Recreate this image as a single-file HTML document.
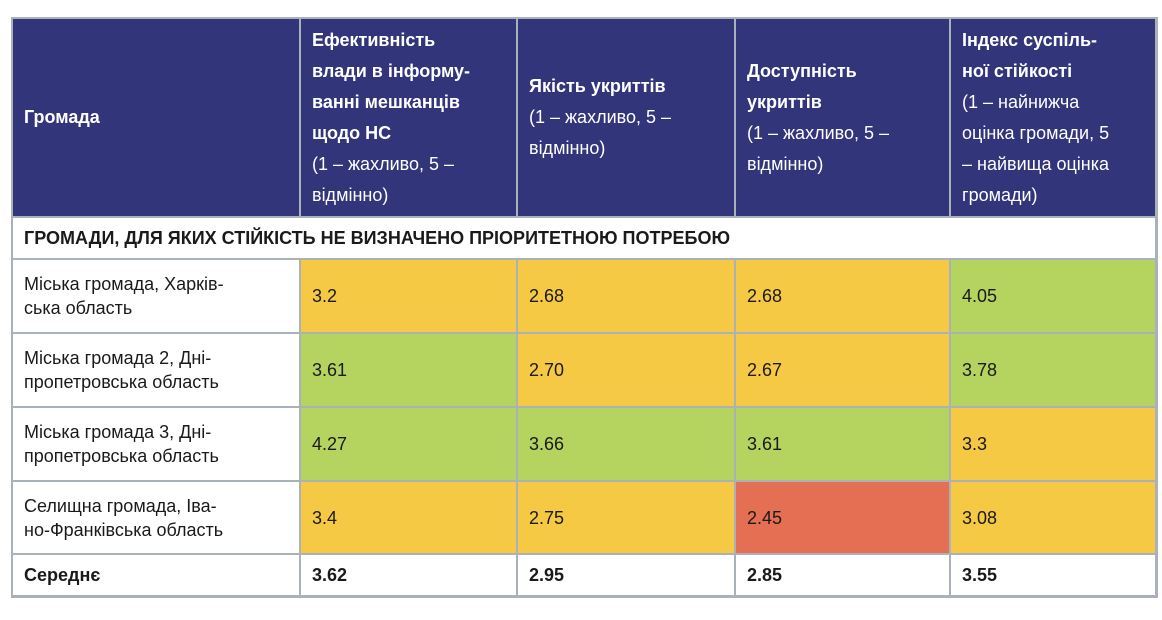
<!DOCTYPE html>
<html><head><meta charset="utf-8"><style>
body{margin:0;width:1162px;height:620px;background:#fff;position:relative;font-family:"Liberation Sans","DejaVu Sans",sans-serif;overflow:hidden}
#tbl{position:absolute;left:11px;top:17px;width:1147px;height:581px;background:#aab1b8}
.c{position:absolute;box-sizing:border-box;display:flex;align-items:center;padding-left:11px;font-size:18px;color:#1a1a1a;line-height:24px}
.c>span{display:block;white-space:nowrap}
.h{background:#33357b;color:#fff;line-height:31px}
.h b{font-weight:bold}
.y{background:#f5c944}.g{background:#b5d35f}.r{background:#e56f52}.w{background:#fff}
</style></head><body>
<div id="tbl"></div>
<script>
const colX=[12,300,517,735,950,1156];
const rowY=[18,217,259,333,407,481,554,596];
const headers=['<b>Громада</b>','<b>Ефективність<br>влади в інформу-<br>ванні мешканців<br>щодо НС</b><br>(1 – жахливо, 5 –<br>відмінно)','<b>Якість укриттів</b><br>(1 – жахливо, 5 –<br>відмінно)','<b>Доступність<br>укриттів</b><br>(1 – жахливо, 5 –<br>відмінно)','<b>Індекс суспіль-<br>ної стійкості</b><br>(1 – найнижча<br>оцінка громади, 5<br>– найвища оцінка<br>громади)'];
const communities=['Міська громада, Харків-<br>ська область','Міська громада 2, Дні-<br>пропетровська область','Міська громада 3, Дні-<br>пропетровська область','Селищна громада, Іва-<br>но-Франківська область'];
const values=[['3.2','2.68','2.68','4.05'],['3.61','2.70','2.67','3.78'],['4.27','3.66','3.61','3.3'],['3.4','2.75','2.45','3.08']];
const colors=[['y','y','y','g'],['g','y','y','g'],['g','g','g','y'],['y','y','r','y']];
const averages=['3.62','2.95','2.85','3.55'];
const T=document.getElementById('tbl');
function cell(ci,ri,cspan,cls,html,name){
  const d=document.createElement('div');
  d.className='c '+cls;
  const x0=colX[ci],x1=colX[ci+cspan],y0=rowY[ri],y1=rowY[ri+1];
  d.style.left=(x0-11+1)+'px';d.style.top=(y0-17+1)+'px';
  d.style.width=(x1-x0-2)+'px';d.style.height=(y1-y0-2)+'px';
  d.innerHTML='<span>'+html+'</span>';
  
  
  T.appendChild(d);return d;
}
headers.forEach((h,i)=>cell(i,0,1,'h',h,'header-col-'+(i+1)));
cell(0,1,5,'w','<b>ГРОМАДИ, ДЛЯ ЯКИХ СТІЙКІСТЬ НЕ ВИЗНАЧЕНО ПРІОРИТЕТНОЮ ПОТРЕБОЮ</b>','section-title');
communities.forEach((n,r)=>{
  cell(0,r+2,1,'w',n,'community-name-'+(r+1));
  values[r].forEach((v,c)=>cell(c+1,r+2,1,colors[r][c],v,'value-r'+(r+1)+'-c'+(c+1)));
});
cell(0,6,1,'w','<b>Середнє</b>','average-label');
averages.forEach((v,c)=>cell(c+1,6,1,'w','<b>'+v+'</b>','average-c'+(c+1)));
</script>
</body></html>
